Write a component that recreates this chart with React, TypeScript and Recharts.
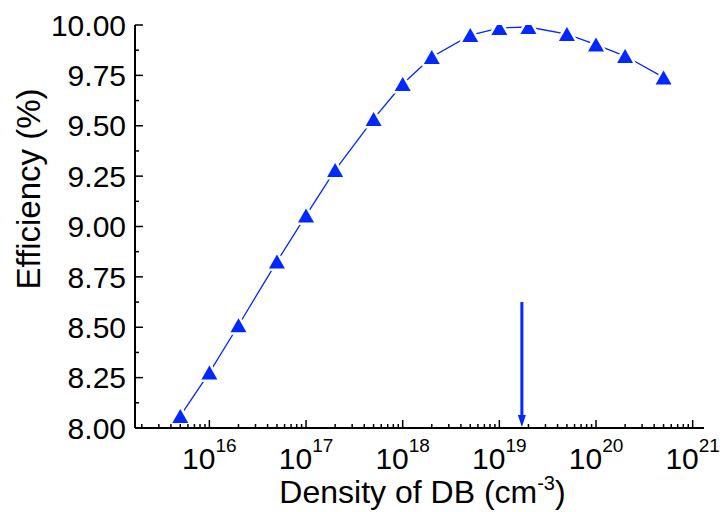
import React from 'react';
import { LineChart, Line, XAxis, YAxis, ReferenceLine } from 'recharts';

// ---- data ----
const densities = [5e15, 1e16, 2e16, 5e16, 1e17, 2e17, 5e17, 1e18, 2e18, 5e18, 1e19, 2e19, 5e19, 1e20, 2e20, 5e20];
const efficiencies = [8.06, 8.275, 8.51, 8.826, 9.055, 9.28, 9.534, 9.707, 9.841, 9.95, 9.985, 9.99, 9.955, 9.903, 9.846, 9.74];
const xDomain = [1.7e15, 1.31e21];
const yDomain = [8, 10];
const xDecades = [15, 16, 17, 18, 19, 20, 21];
const xMultipliers = [1, 2, 3, 4, 5, 6, 7, 8, 9];
const yTicks = [8, 8.125, 8.25, 8.375, 8.5, 8.625, 8.75, 8.875, 9, 9.125, 9.25, 9.375, 9.5, 9.625, 9.75, 9.875, 10];
const arrowDensity = 1.71e19;
const arrowTop = 8.625;

const data = densities.map((x, i) => ({ x, y: efficiencies[i] }));
const xTicks: number[] = [];
xDecades.forEach((n) =>
  xMultipliers.forEach((m) => {
    const v = m * Math.pow(10, n);
    if (v >= xDomain[0] && v <= xDomain[1]) xTicks.push(v);
  })
);

const BLUE = '#0028ff';
const FONT = '"Liberation Sans", Arial, Helvetica, sans-serif';

const XTick = (props: any) => {
  const { x, y, payload } = props;
  const lg = Math.log10(payload.value);
  const major = Math.abs(lg - Math.round(lg)) < 1e-6;
  return (
    <g>
      <line x1={x} x2={x} y1={y} y2={y - (major ? 8 : 4)} stroke="#000" strokeWidth={1.5} />
      {major && (
        <text x={x} y={y + 41} textAnchor="middle" fontFamily={FONT} fontSize={30} fill="#000">
          10
          <tspan dy={-17} fontSize={19}>{Math.round(lg)}</tspan>
        </text>
      )}
    </g>
  );
};

const YTick = (props: any) => {
  const { x, y, payload } = props;
  const v = payload.value;
  const major = Math.abs(v * 4 - Math.round(v * 4)) < 1e-6;
  return (
    <g>
      <line x1={x} x2={x + (major ? 8 : 4)} y1={y} y2={y} stroke="#000" strokeWidth={1.5} />
      {major && (
        <text x={x - 9} y={y} dy={10.7} textAnchor="end" fontFamily={FONT} fontSize={30} fill="#000">
          {v.toFixed(2)}
        </text>
      )}
    </g>
  );
};

const Tri = (props: any) => {
  const { cx, cy, index } = props;
  if (cx == null || cy == null) return null;
  const pts = `${cx},${cy - 7} ${cx - 8},${cy + 7} ${cx + 8},${cy + 7}`;
  return (
    <g key={`tri-${index}`}>
      <polygon points={pts} fill="#fff" stroke="#fff" strokeWidth={5} strokeLinejoin="round" />
      <polygon points={pts} fill={BLUE} />
    </g>
  );
};

const Arrow = (p: any) => {
  const { x1, y1, x2, y2 } = p;
  const tipY = y2 - 1;
  return (
    <g>
      <line x1={x1} y1={y1} x2={x2} y2={tipY - 9} stroke={BLUE} strokeWidth={3} />
      <polygon points={`${x2},${tipY} ${x2 - 4},${tipY - 12} ${x2 + 4},${tipY - 12}`} fill={BLUE} />
    </g>
  );
};

const XTitle = (props: any) => {
  const vb = props.viewBox || { x: 135, y: 428, width: 569, height: 84 };
  const cx = vb.x + vb.width / 2 + 3;
  return (
    <text x={cx} y={vb.y + 75} textAnchor="middle" fontFamily={FONT} fontSize={32} fill="#000">
      Density of DB (cm
      <tspan dy={-13} fontSize={20}>-3</tspan>
      <tspan dy={13}>)</tspan>
    </text>
  );
};

const YTitle = () => (
  <text
    transform="translate(40, 189) rotate(-90)"
    textAnchor="middle"
    fontFamily={FONT}
    fontSize={33}
    fill="#000"
  >
    Efficiency (%)
  </text>
);

export default function App() {
  return (
    <div style={{ position: 'absolute', left: 0, top: 0, background: '#fff' }}>
      <LineChart width={722} height={512} data={data} margin={{ top: 25, right: 18, bottom: 0, left: 0 }}>
        <XAxis
          dataKey="x"
          type="number"
          scale="log"
          domain={xDomain}
          allowDataOverflow
          ticks={xTicks}
          interval={0}
          tick={<XTick />}
          tickLine={false}
          tickSize={0}
          tickMargin={0}
          axisLine={{ stroke: '#000', strokeWidth: 2 }}
          height={84}
          label={XTitle}
        />
        <YAxis
          type="number"
          domain={yDomain}
          allowDataOverflow
          ticks={yTicks}
          interval={0}
          tick={<YTick />}
          tickLine={false}
          tickSize={0}
          tickMargin={0}
          axisLine={{ stroke: '#000', strokeWidth: 2 }}
          width={135}
          label={YTitle}
        />
        <Line
          type="linear"
          dataKey="y"
          stroke={BLUE}
          strokeWidth={1.3}
          dot={Tri}
          activeDot={false}
          isAnimationActive={false}
        />
        <ReferenceLine
          segment={[
            { x: arrowDensity, y: arrowTop },
            { x: arrowDensity, y: yDomain[0] },
          ]}
          shape={Arrow}
        />
      </LineChart>
    </div>
  );
}
